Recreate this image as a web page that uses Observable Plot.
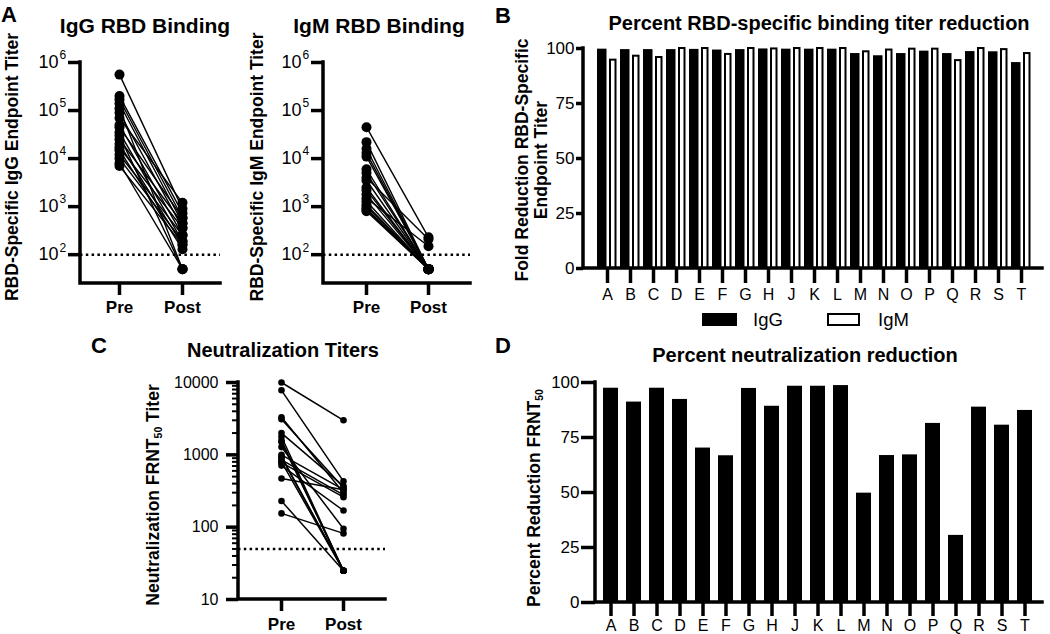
<!DOCTYPE html>
<html><head><meta charset="utf-8">
<script src="https://cdn.jsdelivr.net/npm/d3@7"></script>
<script src="https://cdn.jsdelivr.net/npm/@observablehq/plot@0.6"></script>
<style>
html,body{margin:0;padding:0;background:#fff;}
#fig{position:relative;width:1050px;height:634px;overflow:hidden;font-family:"Liberation Sans",Arial,sans-serif;color:#000;background:#fff;}
#fig svg{position:absolute;left:0;top:0;}
.t{position:absolute;white-space:nowrap;line-height:1;}
.sw{position:absolute;box-sizing:border-box;}
</style></head><body><div id="fig"></div>
<script>
// ---------- data ----------
const subjects = ["A","B","C","D","E","F","G","H","J","K","L","M","N","O","P","Q","R","S","T"];
const timepoints = ["Pre","Post"];
const iggPre  = [560000,200000,170000,140000,110000,90000,70000,50000,45000,35000,30000,25000,20000,17000,15000,12000,10000,8000,7000];
const iggPost = [900,730,580,450,50,360,1200,255,580,190,50,450,160,360,130,255,190,50,160];
const igmPre  = [45000,22000,16000,13000,11000,6000,5000,4000,3500,2500,2200,1800,1500,1300,1100,1000,900,850,800];
const igmPost = [230,50,50,50,50,50,50,210,50,50,50,50,150,50,50,50,50,50,50];
const neutPre  = [950,3300,920,1280,10000,780,800,230,1500,1580,1780,155,1000,850,2000,470,3100,7800,710];
const neutPost = [25,300,25,95,3000,260,25,25,25,25,25,82,330,280,370,330,350,430,170];
const iggReduction  = [99.7,99.5,99.5,99.5,99.6,99.3,99.5,99.8,99.7,99.7,99.7,97.7,96.7,97.7,98.8,97.7,98.6,98.5,93.6];
const igmReduction  = [94.7,96.5,95.9,100,100,97.3,100,99.8,100,100,100,98.5,99.3,99.7,99.7,94.5,100,99.5,97.7];
const neutReduction = [97.4,91.1,97.4,92.3,70.2,66.7,97.3,89.2,98.3,98.3,98.6,49.7,66.8,67.1,81.4,30.5,88.8,80.6,87.3];
const bindingExponents = [2,3,4,5,6];
const neutTicks = [10,100,1000,10000];
const percentTicks = [0,25,50,75,100];
const bindingLOD = 100;
const neutLOD = 50;

// ---------- helpers ----------
const W = 1050, H = 634;
const fig = document.getElementById("fig");
const FONT = '"Liberation Sans", Arial, sans-serif';
function box(l, t, r, b) { return {width: W, height: H, marginLeft: l, marginTop: t, marginRight: W - r, marginBottom: H - b}; }
function axisLine(index, scales, values, d) {
  const g = document.createElementNS("http://www.w3.org/2000/svg", "path");
  g.setAttribute("d", `M${d.marginLeft},${d.marginTop}V${d.height - d.marginBottom}H${d.width - d.marginRight}`);
  g.setAttribute("fill", "none");
  g.setAttribute("stroke", "black");
  g.setAttribute("stroke-width", "3.5");
  g.setAttribute("stroke-linecap", "square");
  return g;
}
function mount(svg) { svg.style.background = "transparent"; svg.style.overflow = "visible"; fig.appendChild(svg); }
function label(html, x, y, {size = 17.5, weight = "bold", rotate = false} = {}) {
  const d = document.createElement("div");
  d.className = "t";
  d.innerHTML = html;
  Object.assign(d.style, {left: x + "px", top: y + "px", fontSize: size + "px", fontWeight: weight,
    transform: `translate(-50%,-50%)${rotate ? " rotate(-90deg)" : ""}`});
  fig.appendChild(d);
}
const sub = s => `<span style="font-size:0.6em;position:relative;top:0.25em">${s}</span>`;
const longForm = (pre, post) => subjects.flatMap((s, i) => [{id: s, time: timepoints[0], v: pre[i]}, {id: s, time: timepoints[1], v: post[i]}]);
const baseStyle = {fontFamily: FONT, fontSize: "17px", color: "black", background: "transparent", overflow: "visible"};

// ---------- panel A (binding, paired) ----------
function bindingPanel(pre, post, l, r, pad) {
  const data = longForm(pre, post);
  const ticks = bindingExponents.map(e => 10 ** e);
  return Plot.plot({
    ...box(l, 62, r, 283),
    style: {...baseStyle, fontSize: "18px"},
    x: {type: "point", domain: timepoints, padding: pad, label: null},
    y: {type: "log", domain: [10 ** 1.4, 1e6], label: null},
    marks: [
      Plot.ruleY([bindingLOD], {stroke: "black", strokeWidth: 2.5, strokeDasharray: "2.5,3.3"}),
      Plot.line(data, {x: "time", y: "v", z: "id", stroke: "black", strokeWidth: 1.4}),
      Plot.dot(data, {x: "time", y: "v", r: 5, fill: "black"}),
      Plot.axisY({ticks, tickFormat: () => "10", tickSize: 12, tickPadding: 10, strokeWidth: 3.5, fontSize: 18, label: null}),
      Plot.text(bindingExponents, {y: e => 10 ** e, text: e => String(e), frameAnchor: "left", dx: -21, dy: -7, textAnchor: "start", fontSize: 12}),
      Plot.axisX({tickSize: 12, tickPadding: 5, strokeWidth: 3.5, fontWeight: "bold", fontSize: 17, label: null}),
      axisLine
    ]
  });
}
mount(bindingPanel(iggPre, iggPost, 80, 220, 0.594));
mount(bindingPanel(igmPre, igmPost, 323, 470, 0.685));

// ---------- panel C (neutralization, paired) ----------
{
  const data = longForm(neutPre, neutPost);
  const minor = [];
  for (const dec of [10, 100, 1000]) for (let k = 2; k <= 9; k++) minor.push(dec * k);
  mount(Plot.plot({
    ...box(238, 382, 385, 599),
    style: {...baseStyle, fontSize: "16px"},
    x: {type: "point", domain: timepoints, padding: 0.667, label: null},
    y: {type: "log", domain: [10, 10000], label: null},
    marks: [
      Plot.ruleY([neutLOD], {stroke: "black", strokeWidth: 2.5, strokeDasharray: "2.5,3.3"}),
      Plot.line(data, {x: "time", y: "v", z: "id", stroke: "black", strokeWidth: 1.5}),
      Plot.dot(data, {x: "time", y: "v", r: 3.3, fill: "black"}),
      Plot.axisY({ticks: minor, tickFormat: () => "", tickSize: 6, strokeWidth: 2, label: null}),
      Plot.axisY({ticks: neutTicks, tickFormat: d => String(d), tickSize: 12, tickPadding: 8, strokeWidth: 3.5, fontSize: 16, label: null}),
      Plot.axisX({tickSize: 12, tickPadding: 6, strokeWidth: 3.5, fontWeight: "bold", fontSize: 17, label: null}),
      axisLine
    ]
  }));
}

// ---------- panel B (binding reduction bars) ----------
{
  const data = subjects.map((s, i) => ({s, igg: iggReduction[i], igm: igmReduction[i]}));
  mount(Plot.plot({
    ...box(583, 48, 1042, 268),
    style: baseStyle,
    x: {type: "band", domain: subjects, range: [597, 1038], paddingInner: 0.12, paddingOuter: 0, align: 0, label: null},
    y: {domain: [0, 100], label: null},
    marks: [
      Plot.barY(data, {x: "s", y: "igg", fill: "black", insetRight: 10.5}),
      Plot.barY(data, {x: "s", y: "igm", fill: "white", stroke: "black", strokeWidth: 2, insetLeft: 13, insetRight: 1.5}),
      Plot.axisY({ticks: percentTicks, tickSize: 7, tickPadding: 2, strokeWidth: 3.5, fontSize: 17, label: null}),
      Plot.axisX({tickSize: 15, tickPadding: 5, strokeWidth: 3.5, fontSize: 16, label: null}),
      axisLine
    ]
  }));
}

// ---------- panel D (neutralization reduction bars) ----------
{
  const data = subjects.map((s, i) => ({s, v: neutReduction[i]}));
  mount(Plot.plot({
    ...box(595, 382, 1042, 602),
    style: baseStyle,
    x: {type: "band", domain: subjects, range: [602.7, 1033.3], paddingInner: 0.35, paddingOuter: 0, align: 0, label: null},
    y: {domain: [0, 100], label: null},
    marks: [
      Plot.barY(data, {x: "s", y: "v", fill: "black"}),
      Plot.axisY({ticks: percentTicks, tickSize: 14, tickPadding: 2, strokeWidth: 3.5, fontSize: 17, label: null}),
      Plot.axisX({tickSize: 14, tickPadding: 3, strokeWidth: 3.5, fontSize: 16, label: null}),
      axisLine
    ]
  }));
}

// ---------- text ----------
label("A", 9, 15, {size: 22});
label("B", 503, 16, {size: 22});
label("C", 99, 346, {size: 22});
label("D", 503, 346, {size: 22});
label("IgG RBD Binding", 145, 25, {size: 21});
label("IgM RBD Binding", 379, 25, {size: 21});
label("Percent RBD-specific binding titer reduction", 819, 23, {size: 20});
label("Neutralization Titers", 283, 350, {size: 20});
label("Percent neutralization reduction", 805, 355, {size: 20});
label("RBD-Specific IgG Endpoint Titer", 12.5, 167, {rotate: true});
label("RBD-Specific IgM Endpoint Titer", 258, 167, {rotate: true});
label("Neutralization FRNT" + sub("50") + " Titer", 154, 495, {rotate: true});
label("Fold Reduction RBD-Specific", 523, 160, {rotate: true});
label("Endpoint Titer", 542, 160, {rotate: true});
label("Percent Reduction FRNT" + sub("50"), 535, 498, {rotate: true});

// legend
{
  const s1 = document.createElement("div"); s1.className = "sw";
  Object.assign(s1.style, {left: "702px", top: "313px", width: "35px", height: "13px", background: "#000"});
  const s2 = document.createElement("div"); s2.className = "sw";
  Object.assign(s2.style, {left: "827px", top: "313px", width: "33px", height: "13px", background: "#fff", border: "2.5px solid #000"});
  fig.appendChild(s1); fig.appendChild(s2);
  const t1 = document.createElement("div"); t1.className = "t"; t1.textContent = "IgG";
  Object.assign(t1.style, {left: "753px", top: "311px", fontSize: "18.5px"});
  const t2 = document.createElement("div"); t2.className = "t"; t2.textContent = "IgM";
  Object.assign(t2.style, {left: "878px", top: "311px", fontSize: "18.5px"});
  fig.appendChild(t1); fig.appendChild(t2);
}
</script></body></html>
